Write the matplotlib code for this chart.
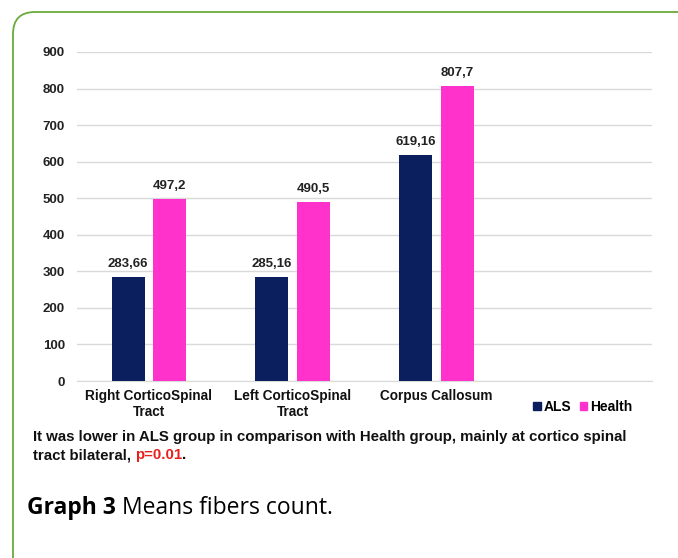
import matplotlib
matplotlib.use("Agg")
import matplotlib.pyplot as plt
from matplotlib.patches import FancyBboxPatch, Patch
from matplotlib.transforms import IdentityTransform
import numpy as np

categories = ["Right CorticoSpinal\nTract", "Left CorticoSpinal\nTract", "Corpus Callosum", ""]
als = [283.66, 285.16, 619.16]
health = [497.2, 490.5, 807.7]
als_labels = ["283,66", "285,16", "619,16"]
health_labels = ["497,2", "490,5", "807,7"]
yticks = [0, 100, 200, 300, 400, 500, 600, 700, 800, 900]

NAVY = "#0b1f5e"
MAGENTA = "#ff33cc"
GREEN = "#6aaa3a"

plt.rcParams['font.family'] = ['Liberation Sans', 'DejaVu Sans']

fig = plt.figure(figsize=(6.78, 5.58), dpi=100)
W, H = 678, 558

# green rounded border
border = FancyBboxPatch((13, -40), 720, H - 12 + 40,
                        boxstyle="round,pad=0,rounding_size=22",
                        transform=IdentityTransform(), facecolor="none",
                        edgecolor=GREEN, linewidth=1.3, zorder=-5)
fig.patches.append(border)

ax = fig.add_axes([77 / W, 1 - 381 / H, 575 / W, 329 / H])
ax.set_facecolor("none")
x = np.arange(len(als))
bw = 0.23
off = 0.145
ax.bar(x - off, als, width=bw, color=NAVY, zorder=3, label="ALS")
ax.bar(x + off, health, width=bw, color=MAGENTA, zorder=3, label="Health")
for xi, v, t in zip(x - off, als, als_labels):
    ax.annotate(t, (xi, v), xytext=(0, 5), textcoords="offset points",
                ha="center", va="bottom", fontsize=9.5, fontweight="bold", color="#222222")
for xi, v, t in zip(x + off, health, health_labels):
    ax.annotate(t, (xi, v), xytext=(0, 5), textcoords="offset points",
                ha="center", va="bottom", fontsize=9.5, fontweight="bold", color="#222222")

ax.set_xlim(-0.5, len(categories) - 0.5)
ax.set_ylim(0, 900)
ax.set_yticks(yticks)
ax.set_yticklabels([str(v) for v in yticks], fontsize=9.5, fontweight="bold", color="#222222")
ax.set_xticks(np.arange(len(categories)))
ax.set_xticklabels(categories, fontsize=9.8, fontweight="bold", color="#111111", linespacing=1.15)
ax.tick_params(axis="both", length=0)
ax.tick_params(axis="y", pad=8.6)
ax.tick_params(axis="x", pad=6)
ax.yaxis.grid(True, color="#d9d9d9", linewidth=1.0, zorder=0)
for s in ["top", "right", "left"]:
    ax.spines[s].set_visible(False)
ax.spines["bottom"].set_color("#d9d9d9")

leg = fig.legend(handles=[Patch(color=NAVY, label="ALS"), Patch(color=MAGENTA, label="Health")],
                 loc="center", bbox_to_anchor=(583 / W, 1 - 407 / H), ncol=2, frameon=False,
                 handlelength=0.55, handleheight=0.55, handletextpad=0.2, columnspacing=0.6,
                 prop={"size": 10, "weight": "bold"})

# caption
fs = 10.8
fig.text(33 / W, 1 - 437 / H,
         "It was lower in ALS group in comparison with Health group, mainly at cortico spinal",
         fontsize=fs, fontweight="bold", color="#111111", va="center")
t1 = fig.text(33 / W, 1 - 455 / H, "tract bilateral, ", fontsize=fs, fontweight="bold",
              color="#111111", va="center")
fig.canvas.draw()
r = fig.canvas.get_renderer()
bb = t1.get_window_extent(r)
t2 = fig.text(bb.x1 / W, 1 - 455 / H, "p=0.01", fontsize=fs, fontweight="bold",
              color="#e8201c", va="center")
bb2 = t2.get_window_extent(r)
fig.text(bb2.x1 / W, 1 - 455 / H, ".", fontsize=fs, fontweight="bold", color="#111111", va="center")

g = fig.text(27 / W, 1 - 508 / H, "Graph 3", fontsize=16.5, fontweight="bold",
             family=["Open Sans", "DejaVu Sans"], va="center", color="black")
bb3 = g.get_window_extent(r)
fig.text(bb3.x1 / W, 1 - 508 / H, " Means fibers count.", fontsize=16.5,
         family=["Open Sans", "DejaVu Sans"], va="center", color="black")

fig.savefig("out.png", dpi=100)
